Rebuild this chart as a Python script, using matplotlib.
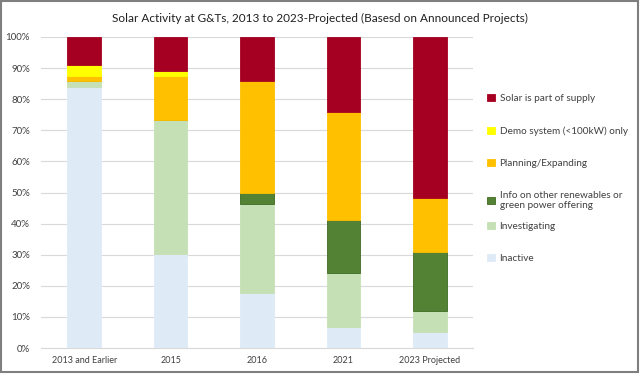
import matplotlib.pyplot as plt
import numpy as np
from matplotlib.patches import Rectangle
from matplotlib.ticker import PercentFormatter

plt.rcParams['font.family'] = ['Lato', 'DejaVu Sans']

categories = ["2013 and Earlier", "2015", "2016", "2021", "2023 Projected"]

# shares in percent, bottom to top
inactive = [84.0, 30.3, 17.6, 6.8, 5.0]
investigating = [1.8, 43.0, 28.7, 17.2, 7.0]
info_other = [0.0, 0.0, 3.6, 17.3, 19.0]
planning = [1.7, 14.2, 35.9, 34.5, 17.1]
demo = [3.6, 1.7, 0.0, 0.0, 0.0]
solar = [8.9, 10.8, 14.2, 24.2, 51.9]

series = [
    ("Inactive", inactive, "#DEEBF7", "#DEEBF7"),
    ("Investigating", investigating, "#C5E0B4", "#C5E0B4"),
    ("Info on other renewables or\ngreen power offering", info_other, "#548235", "#3F6B22"),
    ("Planning/Expanding", planning, "#FFC000", "#FFC000"),
    ("Demo system (<100kW) only", demo, "#FFFF00", "#FFFF00"),
    ("Solar is part of supply", solar, "#A50021", "#A50021"),
]

fig = plt.figure(figsize=(6.4, 3.75), dpi=100)
ax = fig.add_axes([41 / 640, 1 - 348 / 375, 432 / 640, 311 / 375])

x = np.arange(len(categories))
bottom = np.zeros(len(categories))
handles = []
for name, vals, color, edge in series:
    vals = np.array(vals)
    b = ax.bar(x, vals, 0.39, bottom=bottom, color=color, edgecolor=edge,
               linewidth=0.6, label=name, zorder=3)
    handles.append(b)
    bottom += vals

ax.set_xlim(-0.5, len(categories) - 0.5)
ax.set_ylim(0, 100)
ax.set_yticks(np.arange(0, 101, 10))
ax.yaxis.set_major_formatter(PercentFormatter(decimals=0))
ax.set_xticks(x)
ax.set_xticklabels(categories)
ax.tick_params(axis='both', length=0, labelsize=7, colors="#404040")
ax.tick_params(axis='x', pad=6, labelsize=6.5)
ax.tick_params(axis='y', pad=8)
ax.grid(axis='y', color="#D9D9D9", linewidth=0.8, zorder=0)
for side in ["top", "right", "left"]:
    ax.spines[side].set_visible(False)
ax.spines["bottom"].set_color("#D9D9D9")

fig.text(0.5, 1 - 18 / 375, "Solar Activity at G&Ts, 2013 to 2023-Projected (Basesd on Announced Projects)",
         ha="center", va="center", fontsize=8.5, color="#202020")

names = [s[0] for s in series][::-1]
hs = handles[::-1]
leg_kw = dict(loc="upper left", frameon=False, fontsize=7.2, handlelength=0.75,
              handleheight=0.75, handletextpad=0.5, labelspacing=2.3,
              labelcolor="#404040", borderaxespad=0, borderpad=0)
leg1 = fig.legend(hs[:4], names[:4], bbox_to_anchor=(487 / 640, 1 - 94 / 375), **leg_kw)
leg2 = fig.legend(hs[4:], names[4:], bbox_to_anchor=(487 / 640, 1 - 222 / 375), **leg_kw)

fig.patches.append(Rectangle((0.001, 0.008), 0.996, 0.99, transform=fig.transFigure,
                             fill=False, edgecolor="#7F7F7F", linewidth=1.5))

fig.savefig("out.png", dpi=100)
